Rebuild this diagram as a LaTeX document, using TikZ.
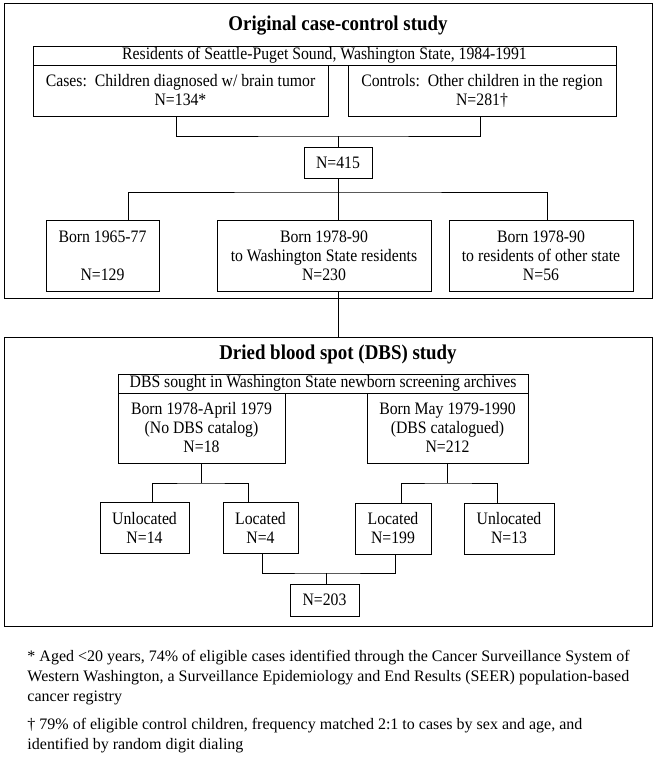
\documentclass[tikz,border=0pt]{standalone}
\usepackage{fontspec}
\setmainfont[FakeStretch=0.9]{Liberation Serif}
\newfontfamily\notefont{Liberation Serif}
\usetikzlibrary{positioning}

\begin{document}
\begin{tikzpicture}[x=1pt,y=-1pt,line width=0.9pt,
    box/.style={draw,rectangle,align=center,inner sep=0pt,font=\fontsize{17.5}{19}\selectfont},
    frame/.style={draw,rectangle,inner sep=0pt},
    head/.style={font=\fontsize{21}{24}\selectfont\bfseries},
    note/.style={align=left,inner sep=0pt,anchor=north west,font=\notefont\fontsize{16}{20}\selectfont}]
  \useasboundingbox (0,0) rectangle (656,764);
  % original study
  \node[frame,minimum width=648,minimum height=295] (orig) at (328,150.5) {};
  \node[head] (origtitle) at (338,26) {Original case-control study};
  \node[box,minimum width=583,minimum height=19] (res) at (324.5,55.5) {Residents of Seattle-Puget Sound, Washington State, 1984-1991};
  \node[box,minimum width=295,minimum height=51] (cases) at (180.5,90.5) {Cases:\ \ Children diagnosed w/ brain tumor\\N=134*};
  \node[box,minimum width=268,minimum height=51] (controls) at (482,90.5) {Controls:\ \ Other children in the region\\N=281†};
  \node[box,minimum width=68,minimum height=31] (n415) at (338,162.5) {N=415};
  \node[box,minimum width=113,minimum height=71] (born6577) at (102.5,255.5) {Born 1965-77\\[19pt]N=129};
  \node[box,minimum width=214,minimum height=71] (bornwa) at (324,255.5) {Born 1978-90\\to Washington State residents\\N=230};
  \node[box,minimum width=184,minimum height=71] (bornother) at (541,255.5) {Born 1978-90\\to residents of other state\\N=56};
  % DBS study
  \node[frame,minimum width=648,minimum height=289] (dbsframe) at (328,481.5) {};
  \node[head] (dbstitle) at (338,354) {Dried blood spot (DBS) study};
  \node[box,minimum width=410,minimum height=19] (sought) at (323,383.5) {DBS sought in Washington State newborn screening archives};
  \node[box,minimum width=167,minimum height=70] (early) at (201.5,428) {Born 1978-April 1979\\(No DBS catalog)\\N=18};
  \node[box,minimum width=161,minimum height=70] (late) at (447.5,428) {Born May 1979-1990\\(DBS catalogued)\\N=212};
  \node[box,minimum width=89,minimum height=51] (unl14) at (144.5,527.5) {Unlocated\\N=14};
  \node[box,minimum width=75,minimum height=51] (loc4) at (260.5,527.5) {Located\\N=4};
  \node[box,minimum width=76,minimum height=51] (loc199) at (393,528.5) {Located\\N=199};
  \node[box,minimum width=90,minimum height=51] (unl13) at (509,528.5) {Unlocated\\N=13};
  \node[box,minimum width=69,minimum height=32] (n203) at (324.5,600) {N=203};
  % footnotes
  \node[note] (fn1) at (27,650) {* Aged <20 years, 74\% of eligible cases identified through the Cancer Surveillance System of\\Western Washington, a Surveillance Epidemiology and End Results (SEER) population-based\\cancer registry};
  \node[note] (fn2) at (27,718) {† 79\% of eligible control children, frequency matched 2:1 to cases by sex and age, and\\identified by random digit dialing};
  % connectors
  \coordinate (j1) at (338,136);
  \coordinate (j2) at (338,192);
  \draw ([xshift=-4.5]cases.south) |- (j1) -| ([xshift=-2]controls.south);
  \draw (j1) -- (j1 |- n415.north);
  \draw (n415.south) -- (j2);
  \draw ([xshift=25.5]born6577.north) |- (j2) -| ([xshift=6]bornother.north);
  \draw (j2) -- (j2 |- bornwa.north);
  \draw (bornwa.south -| j2) -- (dbsframe.north -| j2);
  \coordinate (j3) at (201.5,483);
  \coordinate (j4) at (447.5,483);
  \coordinate (j5) at (326,573);
  \draw (early.south) -- (j3);
  \draw ([xshift=7.5]unl14.north) |- (j3) -| ([xshift=-12.5]loc4.north);
  \draw (late.south) -- (j4);
  \draw ([xshift=8]loc199.north) |- (j4) -| ([xshift=-12]unl13.north);
  \draw ([xshift=1.5]loc4.south) |- (j5) -| ([xshift=2]loc199.south);
  \draw (j5) -- (j5 |- n203.north);
\end{tikzpicture}
\end{document}
